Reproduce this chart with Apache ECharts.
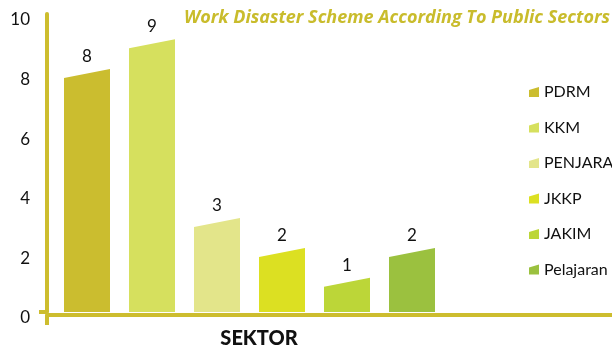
<!DOCTYPE html>
<html>
<head>
<meta charset="utf-8">
<style>
  html, body { margin: 0; padding: 0; background: #ffffff; }
  #chart { width: 612px; height: 349px; }
</style>
<script src="https://cdn.jsdelivr.net/npm/echarts@6/dist/echarts.min.js"></script>
</head>
<body>
<div id="chart"></div>
<script>
// Cases per public sector
const sectors = ['PDRM', 'KKM', 'PENJARA', 'JKKP', 'JAKIM', 'Pelajaran'];
const caseCounts = [8, 9, 3, 2, 1, 2];
const sectorColors = ['#cbbd2f', '#d6e05e', '#e3e58a', '#dce022', '#bcd638', '#9bc13f'];
const categoryLabels = ['SEKTOR'];
const yTicks = [0, 2, 4, 6, 8, 10];

const axisColor = '#cdbd2e';
const FONT = 'Lato, "DejaVu Sans", sans-serif';

const BAR_W = 46;   // bar width in px
const SLOT = 65;    // distance between bar centres
const SLANT = 9;    // rise of the slanted bar top

function makeRender(idx, count) {
  return function (params, api) {
    const top = api.coord([0, api.value(1)]);
    const base = api.coord([0, 0]);
    const cx = top[0] + (idx - (count - 1) / 2) * SLOT;
    const x0 = cx - BAR_W / 2;
    const x1 = cx + BAR_W / 2;
    return {
      type: 'group',
      children: [
        {
          type: 'polygon',
          shape: {
            points: [
              [x0, base[1]],
              [x0, top[1] + SLANT / 2],
              [x1, top[1] - SLANT / 2],
              [x1, base[1]]
            ]
          },
          style: { fill: api.visual('color') }
        },
        {
          type: 'text',
          x: cx,
          y: top[1] - 17,
          style: {
            text: String(api.value(1)),
            fill: '#111111',
            font: '17px ' + FONT,
            align: 'center',
            verticalAlign: 'middle'
          }
        }
      ]
    };
  };
}

const series = sectors.map((name, i) => ({
  name: name,
  type: 'custom',
  xAxisIndex: 0,
  yAxisIndex: 0,
  color: sectorColors[i],
  data: [[0, caseCounts[i]]],
  renderItem: makeRender(i, sectors.length),
  z: 2
}));

const chart = echarts.init(document.getElementById('chart'), null, { renderer: 'canvas' });

chart.setOption({
  animation: false,
  backgroundColor: '#ffffff',
  title: {
    text: 'Work Disaster Scheme According To Public Sectors',
    right: -3,
    top: 4,
    textStyle: {
      color: '#c9bc2c',
      fontFamily: '"Open Sans", Lato, sans-serif',
      fontStyle: 'italic',
      fontWeight: 'bold',
      fontSize: 18
    }
  },
  legend: {
    orient: 'vertical',
    left: 524,
    top: 79,
    itemWidth: 10,
    itemHeight: 10,
    itemGap: 19.5,
    icon: 'path://M0,3 L10,0 L10,10 L0,10 Z',
    data: sectors,
    textStyle: {
      color: '#111111',
      fontFamily: FONT,
      fontSize: 16,
      padding: [0, 0, 0, 0]
    }
  },
  grid: [
    // plotting area for the bars
    { left: 47, right: 160, top: 14, bottom: 34 },
    // full-width frame carrying the long base line
    { left: 47, right: 0, top: 14, bottom: 34 }
  ],
  xAxis: [
    {
      type: 'category',
      gridIndex: 0,
      data: categoryLabels,
      axisLine: { show: false },
      axisTick: { show: false },
      axisLabel: {
        color: '#111111',
        fontFamily: FONT,
        fontWeight: 900,
        fontSize: 20,
        margin: 17,
        padding: [0, 0, 0, 19]
      }
    },
    {
      type: 'value',
      gridIndex: 1,
      min: 0,
      max: 1,
      axisLine: { show: true, lineStyle: { color: axisColor, width: 4 } },
      axisTick: {
        show: true,
        length: 10,
        customValues: [0],
        lineStyle: { color: axisColor, width: 4 }
      },
      axisLabel: { show: false },
      splitLine: { show: false },
      z: 5
    }
  ],
  yAxis: [
    {
      type: 'value',
      gridIndex: 0,
      min: 0,
      max: 10,
      interval: 2,
      axisLine: { show: true, lineStyle: { color: axisColor, width: 4 } },
      axisTick: {
        show: true,
        length: 8,
        customValues: [0],
        lineStyle: { color: axisColor, width: 4 }
      },
      splitLine: { show: false },
      axisLabel: {
        color: '#111111',
        fontFamily: FONT,
        fontSize: 17,
        margin: 17,
        verticalAlign: 'top',
        lineHeight: 12,
        customValues: yTicks
      },
      z: 5
    },
    {
      type: 'value',
      gridIndex: 1,
      min: 0,
      max: 10,
      show: false
    }
  ],
  series: series
});
</script>
</body>
</html>
